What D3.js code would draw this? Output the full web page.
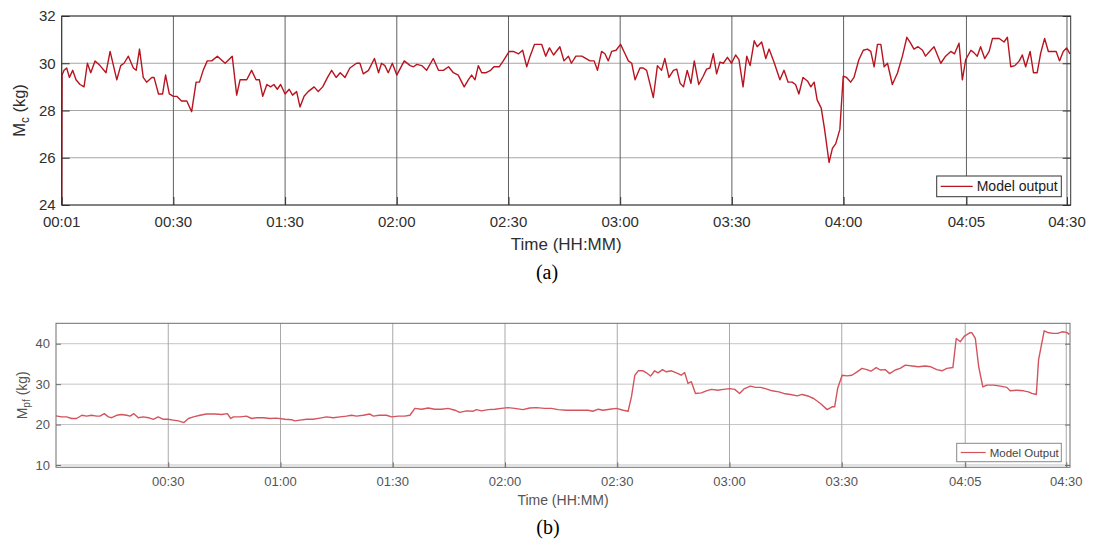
<!DOCTYPE html>
<html>
<head>
<meta charset="utf-8">
<script src="https://cdn.jsdelivr.net/npm/d3@7"></script>
<style>
  html, body { margin: 0; padding: 0; background: #fff; }
  svg { display: block; }
</style>
</head>
<body>
<div id="chart"></div>
<script>
// Time axis is in minutes from the start of the record (both panels share it)
const xTickPos = [0, 30, 60, 90, 120, 150, 180, 210, 243, 270];
const topTickLabels = ["00:01", "00:30", "01:30", "02:00", "02:30", "03:00", "03:30", "04:00", "04:05", "04:30"];
const bottomTickPos = [30, 60, 90, 120, 150, 180, 210, 243, 270];
const bottomTickLabels = ["00:30", "01:00", "01:30", "02:00", "02:30", "03:00", "03:30", "04:05", "04:30"];

const mcTicks = [24, 26, 28, 30, 32];
const mpfTicks = [10, 20, 30, 40];

// (a) M_c model output
const mcTime = [
  0, 0.1, 0.63, 1.34, 2.06, 2.95, 3.85, 4.92, 6.0, 6.9,
  7.8, 8.95, 10.3, 11.9, 13.0, 14.8, 15.85, 16.75, 17.9, 19.25,
  20.0, 20.9, 21.9, 22.8, 24.2, 24.8, 26.0, 27.1, 27.9, 28.9,
  30.0, 30.9, 32.2, 33.6, 34.9, 36.1, 37.0, 38.0, 39.1, 40.3,
  41.8, 43.9, 45.8, 47.0, 47.9, 49.7, 51.0, 52.2, 53.1, 54.0,
  55.1, 56.1, 57.0, 57.9, 58.8, 60.0, 61.1, 62.0, 63.1, 64.0,
  65.1, 66.2, 67.8, 68.9, 70.1, 71.4, 72.5, 73.7, 74.8, 76.1,
  77.4, 79.2, 80.1, 81.0, 82.4, 84.0, 85.1, 85.9, 86.8, 87.7,
  88.8, 90.0, 92.0, 93.6, 94.5, 95.4, 96.7, 98.0, 99.8, 101.2,
  102.5, 103.9, 105.2, 106.5, 108.1, 109.2, 110.1, 111.0, 111.9, 112.8,
  114.0, 115.2, 116.1, 117.5, 118.6, 120.2, 121.3, 122.7, 123.8, 124.9,
  125.8, 127.0, 128.9, 130.0, 131.0, 132.1, 133.8, 134.9, 136.1, 136.9,
  138.1, 139.7, 141.9, 143.0, 143.9, 145.0, 145.9, 146.8, 147.7, 148.9,
  150.1, 151.3, 152.2, 153.1, 154.0, 155.3, 156.2, 157.1, 158.9, 160.0,
  161.1, 162.0, 163.1, 164.3, 165.2, 166.1, 167.0, 168.0, 169.0, 169.9,
  171.1, 172.3, 173.2, 174.1, 175.0, 175.9, 176.8, 177.7, 178.8, 179.9,
  181.0, 181.9, 183.0, 184.0, 184.9, 186.0, 186.8, 188.0, 189.1, 190.0,
  191.3, 192.9, 194.0, 195.1, 196.2, 197.1, 198.0, 199.1, 200.3, 201.2,
  202.1, 202.9, 204.0, 204.9, 206.1, 207.0, 207.9, 209.0, 209.9, 210.8,
  211.9, 212.8, 214.1, 215.3, 216.4, 217.3, 218.2, 219.1, 220.0, 220.9,
  221.8, 223.1, 224.5, 225.8, 227.0, 228.0, 228.9, 230.0, 231.2, 232.0,
  233.1, 234.3, 236.1, 237.4, 238.8, 239.8, 241.0, 241.9, 242.8, 244.2,
  245.0, 245.9, 246.8, 247.9, 249.1, 250.0, 251.8, 253.1, 254.0, 254.9,
  256.0, 257.2, 258.0, 258.9, 260.1, 261.0, 262.0, 262.9, 264.0, 265.0,
  266.0, 267.1, 268.0, 269.0, 269.9, 270.8
];
const mcValues = [
  24, 29.5, 29.7, 29.8, 29.4, 29.7, 29.3, 29.1, 29.0, 30.0,
  29.6, 30.1, 29.9, 29.6, 30.5, 29.3, 29.9, 30.0, 30.3, 29.8,
  29.7, 30.6, 29.4, 29.2, 29.4, 29.4, 28.7, 28.7, 29.5, 28.7,
  28.6, 28.6, 28.4, 28.4, 27.95, 29.2, 29.2, 29.7, 30.1, 30.1,
  30.3, 30.0, 30.3, 28.65, 29.3, 29.3, 29.7, 29.3, 29.3, 28.6,
  29.1, 29.0, 29.1, 28.9, 29.1, 28.7, 28.9, 28.65, 28.8, 28.15,
  28.6, 28.8, 29.0, 28.8, 29.0, 29.4, 29.7, 29.4, 29.6, 29.4,
  29.8, 30.0, 30.0, 29.55, 29.7, 30.2, 29.6, 30.0, 29.9, 29.6,
  30.0, 29.5, 30.1, 29.9, 29.85, 29.95, 29.9, 29.7, 30.2, 29.7,
  29.7, 29.85, 29.6, 29.5, 29.0, 29.3, 29.5, 29.3, 29.9, 29.6,
  29.6, 29.7, 29.85, 29.85, 30.1, 30.5, 30.5, 30.4, 30.55, 29.85,
  30.3, 30.8, 30.8, 30.3, 30.65, 30.35, 30.7, 30.1, 30.3, 30.0,
  30.3, 30.3, 30.1, 30.1, 29.7, 30.5, 30.4, 30.1, 30.5, 30.55,
  30.8, 30.4, 30.1, 30.0, 29.3, 29.8, 29.8, 29.7, 28.55, 29.9,
  29.7, 30.2, 29.4, 29.7, 29.75, 29.15, 29.0, 29.7, 29.15, 30.1,
  29.1, 29.45, 29.75, 29.8, 30.4, 29.55, 30.05, 30.0, 30.25, 30.0,
  30.35, 30.15, 29.0, 30.3, 29.9, 30.95, 30.7, 30.9, 30.2, 30.6,
  30.05, 29.3, 29.7, 29.2, 29.2, 29.1, 28.7, 29.4, 29.25, 29.0,
  29.2, 28.45, 28.1, 27.2, 25.8, 26.4, 26.6, 27.2, 29.45, 29.4,
  29.2, 29.4, 30.15, 30.55, 30.6, 30.5, 29.85, 30.8, 30.8, 29.85,
  30.0, 29.1, 29.6, 30.3, 31.1, 30.85, 30.6, 30.7, 30.55, 30.3,
  30.5, 30.7, 30.0, 30.3, 30.5, 30.4, 30.85, 29.3, 30.15, 30.55,
  30.45, 30.3, 30.7, 30.2, 30.5, 31.05, 31.05, 30.9, 31.1, 29.85,
  29.9, 30.1, 30.35, 29.85, 30.5, 29.6, 29.6, 30.4, 31.05, 30.5,
  30.5, 30.5, 30.1, 30.5, 30.65, 30.4
];

// (b) M_pf model output
const mpfTime = [
  0, 1.5, 2.85, 4.2, 5.5, 6.9, 8.2, 9.5, 10.9, 11.75,
  12.9, 14.0, 14.9, 16.2, 17.5, 18.9, 19.8, 20.8, 22.0, 23.3,
  24.7, 26.0, 27.3, 28.7, 30.0, 31.3, 32.7, 34.2, 35.4, 36.7,
  38.5, 40.2, 42.5, 44.3, 45.8, 46.7, 47.4, 49.2, 50.9, 52.3,
  53.6, 55.4, 57.2, 58.9, 61.2, 63.0, 63.8, 65.2, 67.0, 68.7,
  70.5, 72.3, 74.1, 75.9, 77.6, 79.0, 80.3, 82.1, 83.9, 84.8,
  86.4, 88.3, 89.7, 91.5, 93.2, 94.6, 95.9, 97.7, 99.5, 101.2,
  103.0, 104.8, 106.6, 107.9, 109.7, 111.5, 112.4, 113.7, 115.5, 117.3,
  119.0, 120.8, 122.6, 124.8, 126.6, 128.4, 130.6, 132.4, 134.2, 136.4,
  138.6, 140.4, 142.2, 143.5, 144.9, 146.2, 148.0, 149.8, 151.6, 152.9,
  153.8, 154.7, 155.6, 156.9, 157.8, 158.9, 160.0, 160.9, 162.1, 163.1,
  164.5, 165.8, 167.1, 168.0, 168.9, 169.8, 170.9, 172.5, 173.8, 175.2,
  176.9, 178.3, 180.1, 181.4, 182.7, 184.0, 185.6, 186.9, 188.3, 189.6,
  191.4, 193.2, 194.5, 196.3, 198.1, 199.4, 201.2, 202.5, 204.3, 206.1,
  207.4, 208.1, 208.9, 210.1, 211.4, 212.7, 214.1, 215.4, 216.7, 217.8,
  219.2, 220.3, 221.6, 222.8, 224.3, 225.6, 227.0, 228.8, 230.5, 232.3,
  233.8, 235.4, 236.8, 238.1, 239.7, 240.6, 241.7, 242.8, 244.2, 244.8,
  245.7, 246.6, 247.7, 248.8, 250.6, 252.4, 254.1, 255.0, 256.8, 258.6,
  259.9, 260.8, 262.0, 262.6, 264.1, 265.3, 266.6, 267.7, 268.9, 270.1,
  270.8
];
const mpfValues = [
  22.15, 21.9, 21.9, 21.5, 21.5, 22.3, 22.1, 22.3, 22.1, 22.1,
  22.7, 21.9, 21.7, 22.3, 22.5, 22.3, 22.1, 22.7, 21.7, 21.9,
  21.7, 21.3, 21.9, 21.3, 21.3, 21.1, 20.9, 20.5, 21.5, 21.9,
  22.3, 22.6, 22.6, 22.5, 22.7, 21.5, 21.9, 21.9, 22.1, 21.5,
  21.7, 21.7, 21.5, 21.6, 21.3, 21.2, 20.9, 21.1, 21.3, 21.3,
  21.6, 21.9, 21.7, 21.9, 22.1, 22.3, 22.1, 22.3, 22.6, 22.1,
  22.3, 22.3, 21.9, 22.1, 22.1, 22.3, 24.0, 23.8, 24.1, 23.8,
  23.8, 24.0, 23.55, 23.0, 23.4, 23.3, 23.7, 23.4, 23.7, 23.8,
  24.0, 24.2, 24.0, 23.7, 24.1, 24.2, 24.0, 24.0, 23.7, 23.55,
  23.55, 23.55, 23.55, 23.3, 23.8, 23.55, 23.8, 24.0, 23.55, 23.3,
  26.9, 32.2, 33.3, 33.3, 32.8, 32.0, 33.3, 32.8, 33.6, 33.05,
  33.3, 32.8, 32.2, 32.9, 30.2, 30.6, 27.7, 27.85, 28.35, 28.7,
  28.5, 28.7, 28.9, 28.7, 27.7, 28.9, 29.5, 29.2, 29.2, 28.9,
  28.35, 28.1, 27.7, 27.45, 27.1, 27.45, 27.0, 26.45, 25.2, 23.7,
  24.4, 24.4, 28.9, 32.2, 32.05, 32.2, 33.05, 33.9, 33.6, 33.2,
  34.1, 33.5, 33.6, 32.6, 33.5, 33.9, 34.7, 34.5, 34.3, 34.5,
  34.3, 33.6, 33.3, 33.9, 34.1, 41.3, 40.5, 41.9, 42.7, 42.7,
  41.3, 34.3, 29.3, 29.75, 29.75, 29.5, 29.2, 28.35, 28.5, 28.35,
  28.1, 27.7, 27.45, 36.0, 43.2, 42.7, 42.55, 42.55, 42.95, 42.8,
  42.3
];

const W = 1094, H = 542;
const svg = d3.select("#chart").append("svg").attr("width", W).attr("height", H);

function drawPanel(p) {
  const x = d3.scaleLinear().domain([0, 271]).range([p.left, p.right]);
  const y = d3.scaleLinear().domain(p.yDomain).range([p.bottom, p.top]);
  const g = svg.append("g");

  // grid
  g.selectAll("line.hgrid").data(p.yTicks).join("line").attr("class", "hgrid")
    .attr("x1", p.left).attr("x2", p.right)
    .attr("y1", d => y(d)).attr("y2", d => y(d))
    .attr("stroke", p.hGrid).attr("stroke-width", 1);
  g.selectAll("line.vgrid").data(p.xTicks).join("line").attr("class", "vgrid")
    .attr("x1", d => x(d)).attr("x2", d => x(d))
    .attr("y1", p.top).attr("y2", p.bottom)
    .attr("stroke", p.vGrid).attr("stroke-width", 1);

  // series
  const pts = p.times.map((t, i) => [t, p.values[i]]);
  g.append("path").datum(pts)
    .attr("fill", "none").attr("stroke", p.lineColor)
    .attr("stroke-width", p.lineWidth).attr("stroke-linejoin", "round")
    .attr("d", d3.line().x(d => x(d[0])).y(d => y(d[1])));

  // inward ticks, MATLAB style
  const yAxisL = d3.axisRight(y).tickValues(p.yTicks).tickSize(p.tickLen).tickFormat("");
  const yAxisR = d3.axisLeft(y).tickValues(p.yTicks).tickSize(p.tickLen).tickFormat("");
  const xAxisB = d3.axisTop(x).tickValues(p.xTicks).tickSize(p.tickLen).tickFormat("");
  [[yAxisL, `translate(${p.left},0)`], [yAxisR, `translate(${p.right},0)`],
   [xAxisB, `translate(0,${p.bottom})`]].forEach(([ax, tr]) => {
    const a = g.append("g").attr("transform", tr).call(ax);
    a.select(".domain").remove();
    a.selectAll("line").attr("stroke", p.boxColor);
  });

  // box
  g.append("rect")
    .attr("x", p.left).attr("y", p.top)
    .attr("width", p.right - p.left).attr("height", p.bottom - p.top)
    .attr("fill", "none").attr("stroke", p.boxColor).attr("stroke-width", 1);

  // tick labels
  g.selectAll("text.ylab").data(p.yTicks).join("text").attr("class", "ylab")
    .attr("x", p.left - 6).attr("y", d => y(d)).attr("dy", "0.35em")
    .attr("text-anchor", "end").attr("font-size", p.tickFont).attr("fill", p.textColor)
    .text(d => d);
  g.selectAll("text.xlab").data(p.xTicks).join("text").attr("class", "xlab")
    .attr("x", d => x(d)).attr("y", p.xLabelY)
    .attr("text-anchor", "middle").attr("font-size", p.tickFont).attr("fill", p.textColor)
    .text((d, i) => p.xTickLabels[i]);

  // axis titles
  g.append("text")
    .attr("x", (p.left + p.right) / 2).attr("y", p.titleY)
    .attr("text-anchor", "middle").attr("font-size", p.titleFont).attr("fill", p.textColor)
    .text("Time (HH:MM)");
  const yl = g.append("text")
    .attr("transform", `translate(${p.yTitleX},${(p.top + p.bottom) / 2}) rotate(-90)`)
    .attr("dy", "0.35em").attr("text-anchor", "middle")
    .attr("font-size", p.yTitleFont).attr("fill", p.textColor);
  yl.append("tspan").text("M");
  yl.append("tspan").attr("font-size", p.yTitleFont * 0.72).attr("dy", "0.35em").text(p.sub);
  yl.append("tspan").attr("dy", `-${0.35 * 0.72}em`).text(" (kg)");

  // legend
  const lg = g.append("g").attr("transform", `translate(${p.legend.x},${p.legend.y})`);
  lg.append("rect").attr("width", p.legend.w).attr("height", p.legend.h)
    .attr("fill", "#fff").attr("stroke", p.legend.stroke).attr("stroke-width", 1);
  lg.append("line").attr("x1", 4).attr("x2", p.legend.lineW + 4)
    .attr("y1", p.legend.h / 2).attr("y2", p.legend.h / 2)
    .attr("stroke", p.lineColor).attr("stroke-width", 1.2);
  lg.append("text").attr("x", p.legend.lineW + 8).attr("y", p.legend.h / 2).attr("dy", "0.35em")
    .attr("font-size", p.legend.font).attr("fill", p.legend.color).text(p.legend.label);

  // panel caption
  svg.append("text")
    .attr("x", p.capX).attr("y", p.capY).attr("text-anchor", "middle")
    .attr("font-family", "'Liberation Serif', 'Times New Roman', serif")
    .attr("font-size", 20).attr("fill", "#000").text(p.caption);
}

svg.attr("font-family", "'Liberation Sans', Arial, Helvetica, sans-serif");

drawPanel({
  left: 61.7, right: 1070.7, top: 16, bottom: 205,
  yDomain: [24, 32], yTicks: mcTicks,
  xTicks: xTickPos, xTickLabels: topTickLabels,
  times: mcTime, values: mcValues,
  lineColor: "#b8141f", lineWidth: 1.4,
  hGrid: "#a6a6a6", vGrid: "#606060", boxColor: "#333", textColor: "#2e2e2e",
  tickLen: 8, tickFont: 15, xLabelY: 227, titleFont: 17, titleY: 250,
  yTitleX: 19.5, yTitleFont: 16.5, sub: "c",
  legend: { x: 936.7, y: 176, w: 124.6, h: 20.7, lineW: 32, font: 14, color: "#1a1a1a", stroke: "#333", label: "Model output" },
  caption: "(a)", capX: 547, capY: 279
});

drawPanel({
  left: 56, right: 1070, top: 323.3, bottom: 467.3,
  yDomain: [9.43, 45.05], yTicks: mpfTicks,
  xTicks: bottomTickPos, xTickLabels: bottomTickLabels,
  times: mpfTime, values: mpfValues,
  lineColor: "#d4545e", lineWidth: 1.4,
  hGrid: "#c4c4c4", vGrid: "#a9a9a9", boxColor: "#6e6e6e", textColor: "#555",
  tickLen: 5, tickFont: 13, xLabelY: 486, titleFont: 14, titleY: 505,
  yTitleX: 21.7, yTitleFont: 14, sub: "pf",
  legend: { x: 956.7, y: 443.3, w: 104.6, h: 18.4, lineW: 25, font: 11.5, color: "#444", stroke: "#888", label: "Model Output" },
  caption: "(b)", capX: 548, capY: 534
});
</script>
</body>
</html>
